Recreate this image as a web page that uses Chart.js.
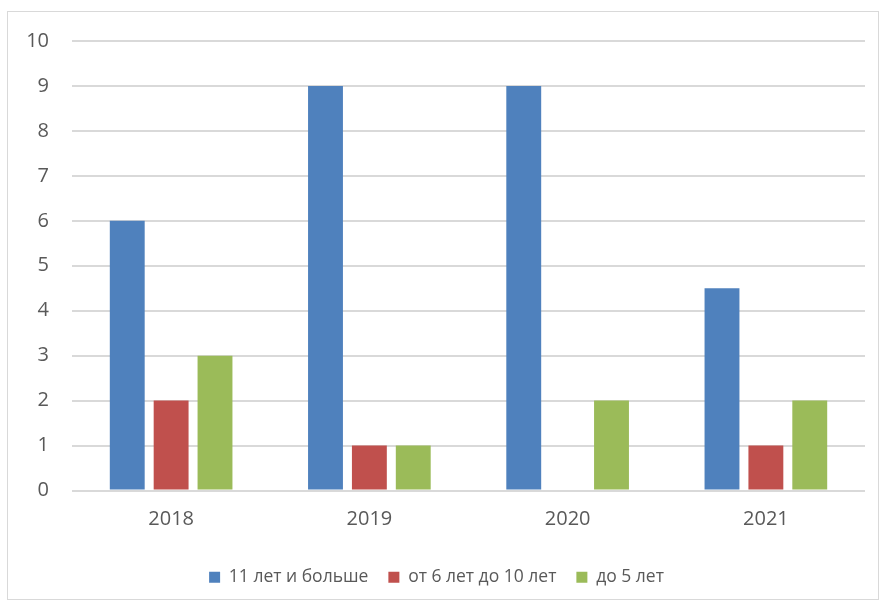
<!DOCTYPE html>
<html>
<head>
<meta charset="utf-8">
<script src="https://cdn.jsdelivr.net/npm/chart.js@4"></script>
<style>
html,body{margin:0;padding:0;background:#fff;}
#wrap{position:absolute;left:7px;top:11px;width:872px;height:589px;border:1px solid #d9d9d9;box-sizing:border-box;}
canvas{display:block;}
</style>
</head>
<body>
<div id="wrap"><canvas id="c"></canvas></div>
<script>
const categories = ["2018", "2019", "2020", "2021"];
const seriesNames = ["11 лет и больше", "от 6 лет до 10 лет", "до 5 лет"];
const series11plus = [6, 9, 9, 4.5];
const series6to10 = [2, 1, 0, 1];
const seriesUpTo5 = [3, 1, 2, 2];
const yTicks = [0, 1, 2, 3, 4, 5, 6, 7, 8, 9, 10];
const colors = ["#4f81bd", "#c0504d", "#9bbb59"];

Chart.defaults.font.family = "'Open Sans', 'Noto Sans', sans-serif";
Chart.defaults.color = "#595959";

new Chart(document.getElementById('c'), {
  type: 'bar',
  data: {
    labels: categories,
    datasets: [series11plus, series6to10, seriesUpTo5].map((d, i) => ({
      label: seriesNames[i],
      data: d,
      backgroundColor: colors[i],
      borderWidth: 0,
      categoryPercentage: 0.664,
      barPercentage: 0.795
    }))
  },
  options: {
    responsive: true,
    maintainAspectRatio: false,
    animation: false,
    layout: { padding: { left: 0, right: 13, top: 0, bottom: 3 } },
    plugins: {
      tooltip: { enabled: false },
      legend: {
        position: 'bottom',
        labels: { boxWidth: 11, boxHeight: 11, font: { size: 17.5 }, padding: 20, color: '#595959' }
      }
    },
    scales: {
      x: {
        grid: { display: false, drawTicks: false },
        border: { display: false },
        ticks: { font: { size: 20 }, padding: 17, color: '#595959' }
      },
      y: {
        min: 0, max: 10,
        afterFit: (s) => { s.width = 64; },
        afterBuildTicks: (s) => { s.ticks = yTicks.map(v => ({ value: v })); },
        grid: { color: '#d9d9d9', lineWidth: 2, drawTicks: false },
        border: { display: false },
        ticks: { font: { size: 20, lineHeight: 0.6 }, padding: 23, color: '#595959' }
      }
    }
  }
});
</script>
</body>
</html>
